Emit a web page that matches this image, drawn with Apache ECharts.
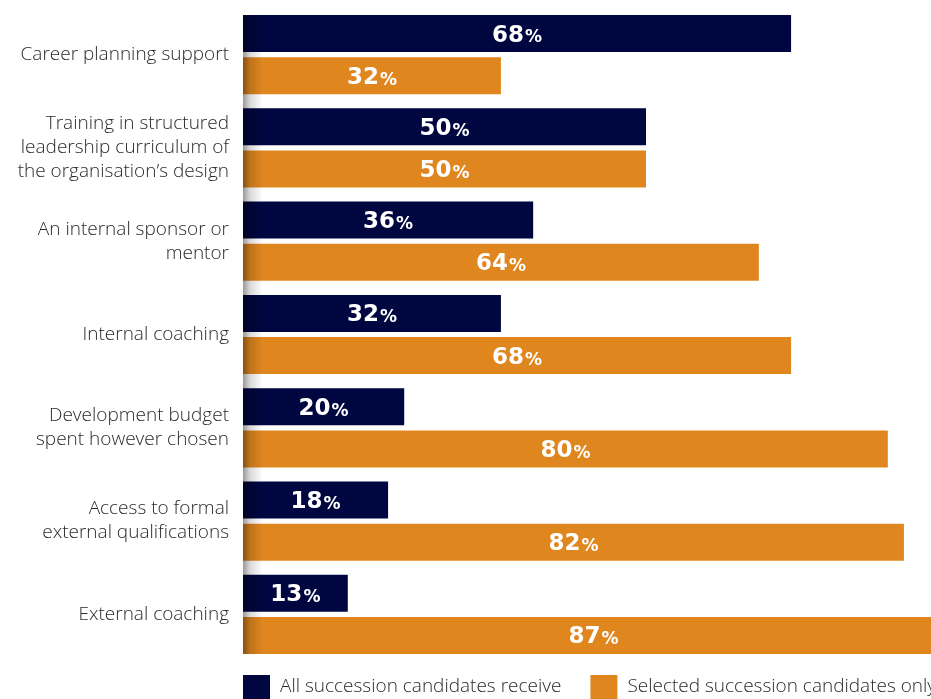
<!DOCTYPE html>
<html><head><meta charset="utf-8">
<script src="https://cdn.jsdelivr.net/npm/echarts@6/dist/echarts.min.js"></script>
<style>html,body{margin:0;padding:0;background:#fff}#c{width:931px;height:699px}</style>
</head><body><div id="c"></div>
<script>
const categories = [
  "Career planning support",
  "Training in structured\nleadership curriculum of\nthe organisation\u2019s design",
  "An internal sponsor or\nmentor",
  "Internal coaching",
  "Development budget\nspent however chosen",
  "Access to formal\nexternal qualifications",
  "External coaching"
];
const allValues = [68, 50, 36, 32, 20, 18, 13];
const selectedValues = [32, 50, 64, 68, 80, 82, 87];
const seriesNames = ["All succession candidates receive", "Selected succession candidates only"];

const chart = echarts.init(document.getElementById('c'), null, {renderer: 'canvas'});
const labelCfg = {
  show: true, position: 'inside', offset: [0, 2],
  formatter: p => '{n|' + p.value + '}{p|%}',
  rich: {
    n: {fontFamily: 'DejaVu Sans', fontWeight: 'bold', fontSize: 23, color: '#fff'},
    p: {fontFamily: 'DejaVu Sans', fontWeight: 'bold', fontSize: 17, color: '#fff', padding: [5, 0, 0, 1]}
  }
};
chart.setOption({
  animation: false,
  grid: {left: 243, top: 8, width: 806, height: 653, outerBoundsMode: 'none', containLabel: false},
  xAxis: {type: 'value', min: 0, max: 100, show: false},
  yAxis: {
    type: 'category', data: categories, inverse: true,
    axisLine: {show: false}, axisTick: {show: false},
    axisLabel: {fontFamily: 'Open Sans', fontWeight: 300, fontSize: 19, color: '#2a2a2a', lineHeight: 24, margin: 14, padding: [4, 0, 0, 0]}
  },
  legend: {
    left: 243, top: 675, width: 900, padding: 0, itemWidth: 27, itemHeight: 24, itemGap: 29,
    icon: 'rect',
    textStyle: {fontFamily: 'Open Sans', fontWeight: 300, fontSize: 19, color: '#2a2a2a', padding: [7, 0, 0, 5]}
  },
  series: [
    {name: seriesNames[0], type: 'bar', data: allValues, barWidth: 37, barGap: '14%',
     itemStyle: {color: '#00063f'}, label: labelCfg},
    {name: seriesNames[1], type: 'bar', data: selectedValues, barWidth: 37,
     itemStyle: {color: '#e0861f'}, label: labelCfg}
  ],
  graphic: [{
    type: 'rect', left: 243, top: 15, z: 100, silent: true,
    shape: {width: 20, height: 639},
    style: {fill: new echarts.graphic.LinearGradient(0, 0, 1, 0, [
      {offset: 0, color: 'rgba(0,0,0,0.4)'},
      {offset: 0.35, color: 'rgba(0,0,0,0.15)'},
      {offset: 1, color: 'rgba(0,0,0,0)'}
    ])}
  }]
});
</script></body></html>
